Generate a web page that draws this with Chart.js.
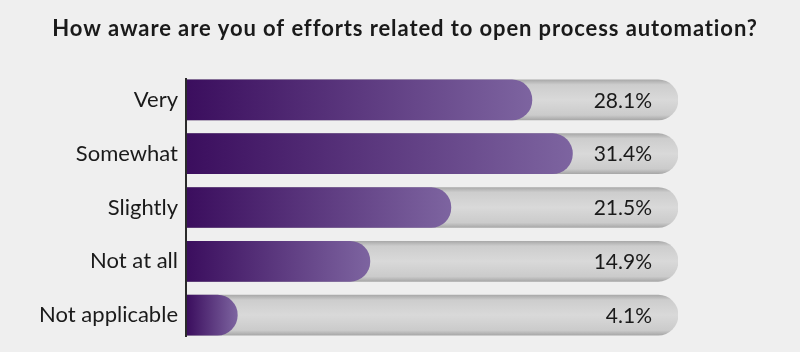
<!DOCTYPE html>
<html>
<head>
<meta charset="utf-8">
<script src="https://cdn.jsdelivr.net/npm/chart.js@4"></script>
<style>
  html, body { margin: 0; padding: 0; background: #efefef; }
  #wrap { width: 800px; height: 352px; }
</style>
</head>
<body>
<div id="wrap"><canvas id="c" width="800" height="352"></canvas></div>
<script>
const title = 'How aware are you of efforts related to open process automation?';
const categories = ['Very', 'Somewhat', 'Slightly', 'Not at all', 'Not applicable'];
const values = [28.1, 31.4, 21.5, 14.9, 4.1];
const valueLabels = ['28.1%', '31.4%', '21.5%', '14.9%', '4.1%'];
const trackValues = [40, 40, 40, 40, 40];
const axisMax = 40;

const FONT = 'Lato, "Open Sans", sans-serif';
const LEFT_PAD = 0;
const AREA_LEFT = 187;
const BAR_H = 40;

function purpleGradient(ctx) {
  const chart = ctx.chart;
  if (!chart.chartArea) return '#5a3a80';
  const xs = chart.scales.x;
  const x0 = xs.getPixelForValue(0);
  const x1 = xs.getPixelForValue(ctx.raw);
  const g = chart.ctx.createLinearGradient(x0, 0, Math.max(x1, x0 + 1), 0);
  g.addColorStop(0, '#3b0e5e');
  g.addColorStop(1, '#7d64a0');
  return g;
}
function trackGradient(ctx) {
  const chart = ctx.chart;
  if (!chart.chartArea) return '#d0d0d0';
  const yc = chart.scales.y.getPixelForValue(ctx.dataIndex);
  const g = chart.ctx.createLinearGradient(0, yc - BAR_H / 2, 0, yc + BAR_H / 2);
  g.addColorStop(0, '#aaaaaa');
  g.addColorStop(0.12, '#cdcdcd');
  g.addColorStop(0.5, '#d9d9d9');
  g.addColorStop(0.88, '#cbcbcb');
  g.addColorStop(1, '#a8a8a8');
  return g;
}

const decorPlugin = {
  id: 'decor',
  afterDatasetsDraw(chart) {
    const c = chart.ctx;
    const xs = chart.scales.x, ys = chart.scales.y;
    c.save();
    // value labels
    c.font = '21px ' + FONT;
    c.fillStyle = '#1a1a1a';
    c.textAlign = 'right';
    c.textBaseline = 'middle';
    valueLabels.forEach((t, i) => {
      c.fillText(t, xs.getPixelForValue(axisMax) - 26, ys.getPixelForValue(i) + 1);
    });
    // vertical axis line spanning the bars
    const yTop = ys.getPixelForValue(0) - BAR_H / 2 - 2;
    const yBot = ys.getPixelForValue(categories.length - 1) + BAR_H / 2 + 2;
    const x0 = xs.getPixelForValue(0) - 1;
    c.strokeStyle = '#2a2a2a';
    c.lineWidth = 2;
    c.beginPath();
    c.moveTo(x0, yTop);
    c.lineTo(x0, yBot);
    c.stroke();
    // title
    c.font = 'bold 22px ' + FONT;
    if ('letterSpacing' in c) c.letterSpacing = '0.9px';
    c.textAlign = 'center';
    c.textBaseline = 'alphabetic';
    c.fillStyle = '#1a1a1a';
    c.fillText(title, 405, 36);
    c.restore();
  }
};

new Chart(document.getElementById('c'), {
  type: 'bar',
  data: {
    labels: categories,
    datasets: [
      {
        label: 'value',
        data: values,
        backgroundColor: purpleGradient,
        borderRadius: 20,
        borderSkipped: 'start',
        barThickness: BAR_H,
        grouped: false,
        order: 1
      },
      {
        label: 'track',
        data: trackValues,
        backgroundColor: trackGradient,
        borderRadius: 20,
        borderSkipped: 'start',
        barThickness: BAR_H,
        grouped: false,
        order: 2
      }
    ]
  },
  options: {
    indexAxis: 'y',
    responsive: false,
    animation: false,
    layout: { padding: { top: 73, bottom: 10, left: LEFT_PAD, right: 122 } },
    plugins: {
      legend: { display: false },
      tooltip: { enabled: false },
      title: { display: false }
    },
    scales: {
      x: { display: false, min: 0, max: axisMax },
      y: {
        grid: { display: false, drawTicks: false },
        border: { display: false },
        ticks: { color: '#1a1a1a', font: { family: FONT, size: 22, lineHeight: 1 }, padding: 9 },
        afterFit(scale) { scale.width = AREA_LEFT - LEFT_PAD; scale.paddingTop = 0; scale.paddingBottom = 0; }
      }
    }
  },
  plugins: [decorPlugin]
});
</script>
</body>
</html>
